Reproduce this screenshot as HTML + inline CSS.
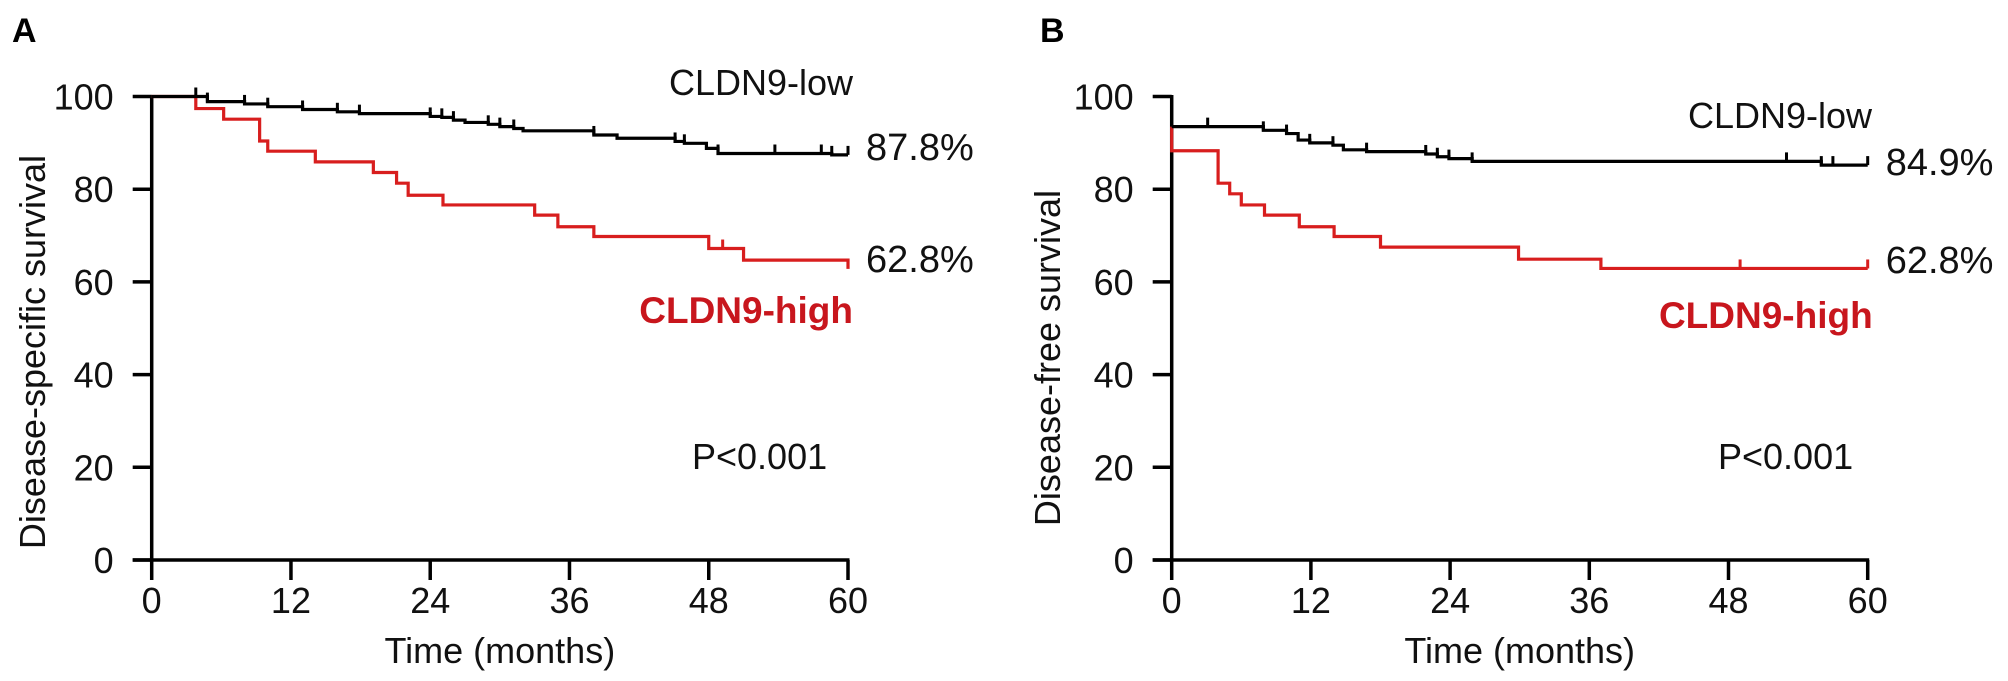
<!DOCTYPE html>
<html><head><meta charset="utf-8"><style>
html,body{margin:0;padding:0;background:#fff;}
svg{display:block;font-family:"Liberation Sans",Arial,sans-serif;}
</style></head><body>
<svg id="fig" width="2008" height="681" viewBox="0 0 2008 681" xmlns="http://www.w3.org/2000/svg"></svg>
<script>
// ---- data ----
const xTicks = [0, 12, 24, 36, 48, 60];
const yTicks = [0, 20, 40, 60, 80, 100];

const lowA_start = 100;
const lowA_t = [4.8, 8.0, 10.0, 13.0, 16.0, 17.9, 24.0, 25.0, 26.0, 27.0, 29.0, 30.0, 31.2, 32.0, 38.1, 40.1, 45.1, 45.9, 47.8, 48.8, 58.6];
const lowA_v = [98.9, 98.4, 97.8, 97.2, 96.7, 96.3, 95.7, 95.5, 94.9, 94.4, 94.0, 93.5, 93.1, 92.6, 91.7, 91.0, 90.3, 89.9, 88.8, 87.7, 87.4];
const lowA_cens = [3.8, 4.8, 8.0, 10.0, 13.0, 16.0, 17.9, 24.0, 25.0, 26.0, 29.0, 30.0, 31.2, 38.1, 45.1, 45.9, 48.8, 53.7, 57.7, 58.6, 60];

const highA_start = 100;
const highA_t = [3.8, 6.2, 9.3, 10.0, 14.1, 19.1, 21.1, 22.1, 25.1, 33.0, 35.0, 38.1, 48.0, 51.0, 60];
const highA_v = [97.4, 95.1, 90.4, 88.2, 85.9, 83.6, 81.3, 78.7, 76.6, 74.4, 71.9, 69.8, 67.2, 64.7, 62.8];
const highA_cens = [49.2];

const lowB_start = 93.5;
const lowB_t = [7.9, 9.9, 10.9, 11.9, 13.9, 14.8, 16.8, 21.9, 22.9, 23.9, 25.9, 56.0];
const lowB_v = [92.7, 92.0, 90.6, 90.0, 89.5, 88.5, 88.1, 87.6, 87.0, 86.6, 86.0, 85.2];
const lowB_cens = [3.1, 7.9, 9.9, 11.9, 13.9, 16.8, 21.9, 22.9, 23.9, 25.9, 53.0, 56.0, 57.0, 60];

const highB_start = 93.5;
const highB_t = [0, 4.0, 5.0, 6.0, 8.0, 11.0, 14.0, 18.0, 29.9, 37.0];
const highB_v = [88.3, 81.3, 79.0, 76.6, 74.4, 71.9, 69.8, 67.5, 64.9, 62.9];
const highB_cens = [49.0, 60];

// ---- drawing ----
const NS = "http://www.w3.org/2000/svg";
const svg = document.getElementById("fig");
function mk(tag, attrs, parent){
  const e = document.createElementNS(NS, tag);
  for (const k in attrs) e.setAttribute(k, attrs[k]);
  (parent||svg).appendChild(e);
  return e;
}
const RED = "#d81e1e";

function panel(cfg){
  const g = mk("g", {});
  
  
  const X = t => cfg.x0 + t * (cfg.x1 - cfg.x0) / 60;
  const Y = v => 560 - v * 4.635;
  // axes
  const ya = mk("line", {x1:X(0), y1:Y(100)-1.5, x2:X(0), y2:562, stroke:"#000","stroke-width":3.5}, g);
  
  
  const xa = mk("line", {x1:X(0)-19, y1:560, x2:X(60)+1.5, y2:560, stroke:"#000","stroke-width":3.5}, g);
  
  
  yTicks.forEach(v=>{
    mk("line",{x1:X(0)-19,y1:Y(v),x2:X(0),y2:Y(v),stroke:"#000","stroke-width":3.5},g);
    const t = mk("text",{x:X(0)-38,y:Y(v)+13,"font-size":36,"text-anchor":"end",fill:"#111"},g);
    t.textContent = v;
    
    
  });
  xTicks.forEach(v=>{
    mk("line",{x1:X(v),y1:560,x2:X(v),y2:580,stroke:"#000","stroke-width":3.5},g);
    const t = mk("text",{x:X(v),y:613,"font-size":36,"text-anchor":"middle",fill:"#111"},g);
    t.textContent = v;
    
    
  });
  const xt = mk("text",{x:(X(0)+X(60))/2,y:663,"font-size":36,"text-anchor":"middle",fill:"#111"},g);
  xt.textContent = "Time (months)";
  
  
  const yt = mk("text",{x:0,y:0,"font-size":36,"text-anchor":"middle",fill:"#111",transform:`translate(${cfg.ytx},${cfg.yty}) rotate(-90)`},g);
  yt.textContent = cfg.ytitle;
  
  
  const pl = mk("text",{x:cfg.letterX,y:42,"font-size":34,"font-weight":"bold",fill:"#000"},g);
  pl.textContent = cfg.letter;
  
  

  function curve(start, ts, vs, cens, color, nm){
    let d = `M${X(0)},${Y(start)}`;
    let cur = start;
    ts.forEach((t,i)=>{ d += ` H${X(t)} V${Y(vs[i])}`; cur = vs[i]; });
    d += ` H${X(60)}`;
    const p = mk("path",{d, fill:"none", stroke:color, "stroke-width":3.2},g);
    
    
    const val = t => { let v = start; ts.forEach((tt,i)=>{ if (tt <= t + 1e-9 && !(tt===60)) v = vs[i]; }); return v; };
    cens.forEach(c=>{
      const y = Y(val(c));
      const m = mk("line",{x1:X(c),y1:y,x2:X(c),y2:y-9,stroke:color,"stroke-width":3},g);
      
      
    });
  }
  curve(cfg.highStart, cfg.highT, cfg.highV, cfg.highC, RED, 'cldn9-high');
  curve(cfg.lowStart, cfg.lowT, cfg.lowV, cfg.lowC, "#000", 'cldn9-low');

  const labels = [
    [cfg.lowLabelX, cfg.lowLabelY, "CLDN9-low", "#111", "normal", 36, "end", "legend-low"],
    [X(60)+18, cfg.pctLowY, cfg.pctLow, "#111", "normal", 38, "start", "final-value-low"],
    [X(60)+18, cfg.pctHighY, "62.8%", "#111", "normal", 38, "start", "final-value-high"],
    [X(60)+5, cfg.highLabelY, "CLDN9-high", "#c8161d", "bold", 37, "end", "legend-high"],
    [cfg.pX, 469, "P<0.001", "#111", "normal", 36, "start", "p-value"]
  ];
  labels.forEach(l=>{
    const t = mk("text",{x:l[0],y:l[1],fill:l[3],"font-weight":l[4],"font-size":l[5],"text-anchor":l[6]},g);
    t.textContent = l[2];
    
    
  });
}

panel({name:"panel-a", letter:"A", letterX:12, x0:151.7, x1:848,
  ytitle:"Disease-specific survival", ytx:45, yty:352,
  lowStart:lowA_start, lowT:lowA_t, lowV:lowA_v, lowC:lowA_cens,
  highStart:highA_start, highT:highA_t, highV:highA_v, highC:highA_cens,
  lowLabelX:853, lowLabelY:95, pctLow:"87.8%", pctLowY:160, pctHighY:272, highLabelY:323, pX:692});
panel({name:"panel-b", letter:"B", letterX:1040, x0:1171.7, x1:1867.7,
  ytitle:"Disease-free survival", ytx:1060, yty:358,
  lowStart:lowB_start, lowT:lowB_t, lowV:lowB_v, lowC:lowB_cens,
  highStart:highB_start, highT:highB_t, highV:highB_v, highC:highB_cens,
  lowLabelX:1872, lowLabelY:128, pctLow:"84.9%", pctLowY:175, pctHighY:273, highLabelY:328, pX:1718});
</script>
</body></html>
